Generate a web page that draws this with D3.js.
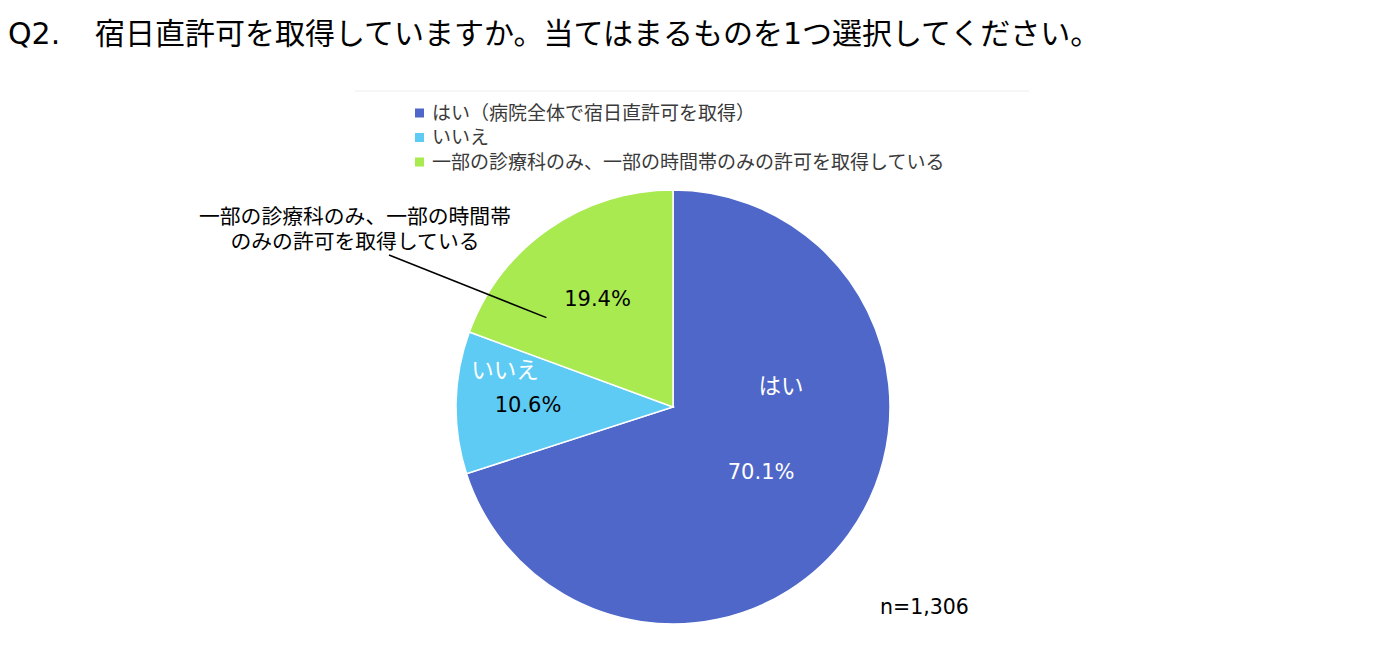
<!DOCTYPE html>
<html>
<head>
<meta charset="utf-8">
<script src="https://cdn.jsdelivr.net/npm/d3@7"></script>
<style>
  body { margin: 0; background: #fff; }
  svg text { font-family: "DejaVu Sans", "Noto Sans CJK JP", sans-serif; }
</style>
</head>
<body>
<svg id="chart" width="1390" height="666"></svg>
<script>
// data
var titleQ = "Q2.";
var titleText = "宿日直許可を取得していますか。当てはまるものを1つ選択してください。";
var categories = ["はい", "いいえ", "一部の診療科のみ、一部の時間帯のみの許可を取得している"];
var legendLabels = ["はい（病院全体で宿日直許可を取得）", "いいえ", "一部の診療科のみ、一部の時間帯のみの許可を取得している"];
var shortLabels = ["はい", "いいえ", ""];
var calloutLines = ["一部の診療科のみ、一部の時間帯", "のみの許可を取得している"];
var values = [70.1, 10.6, 19.4];
var colors = ["#4F67C8", "#5DCBF3", "#A8EA50"];
var nLabel = "n=1,306";

var svg = d3.select("#chart");

// title
var t = svg.append("text")
  .attr("x", 8).attr("y", 44)
  .attr("font-size", 30).attr("fill", "#000");
t.append("tspan").text(titleQ);
t.append("tspan").attr("x", 95).text(titleText);

// faint plot border line
svg.append("line")
  .attr("x1", 355).attr("x2", 1029).attr("y1", 91).attr("y2", 91)
  .attr("stroke", "#eeeeee").attr("stroke-width", 1);

// legend
var legend = svg.append("g").attr("transform", "translate(415,113)");
var li = legend.selectAll("g").data(legendLabels).enter().append("g")
  .attr("transform", function(d, i) { return "translate(0," + (i * 24.5) + ")"; });
li.append("rect")
  .attr("x", 0).attr("y", -4.5).attr("width", 9).attr("height", 9)
  .attr("fill", function(d, i) { return colors[i]; });
li.append("text")
  .attr("x", 17).attr("y", 0).attr("dy", "0.36em")
  .attr("font-size", 19).attr("fill", "#3a3a3a")
  .text(function(d) { return d; });

// pie
var cx = 673, cy = 407, radius = 217;
var g = svg.append("g").attr("transform", "translate(" + cx + "," + cy + ")");

var pie = d3.pie().sort(null).value(function(d) { return d; });
var arcs = pie(values);
var arc = d3.arc().innerRadius(0).outerRadius(radius);

g.selectAll("path").data(arcs).enter().append("path")
  .attr("d", arc)
  .attr("fill", function(d, i) { return colors[i]; })
  .attr("stroke", "#fff").attr("stroke-width", 1.5);

// percent labels
var pctRadius = [109, 145, 132];
var pctColor = ["#fff", "#000", "#000"];
arcs.forEach(function(a, i) {
  var c = d3.arc().innerRadius(pctRadius[i]).outerRadius(pctRadius[i]).centroid(a);
  g.append("text")
    .attr("x", c[0]).attr("y", c[1]).attr("dy", "0.36em")
    .attr("text-anchor", "middle")
    .attr("font-size", 21).attr("fill", pctColor[i])
    .text(d3.format(".1f")(values[i]) + "%");
});

// category labels inside slices
var catOffset = [[20, -85], [-23, -34], [0, 0]];
arcs.forEach(function(a, i) {
  if (!shortLabels[i]) return;
  var c = d3.arc().innerRadius(pctRadius[i]).outerRadius(pctRadius[i]).centroid(a);
  g.append("text")
    .attr("x", c[0] + catOffset[i][0]).attr("y", c[1] + catOffset[i][1]).attr("dy", "0.36em")
    .attr("text-anchor", "middle")
    .attr("font-size", 22.5).attr("fill", "#fff")
    .text(shortLabels[i]);
});

// callout for the third slice
var a3 = arcs[2];
var ang = a3.startAngle + 0.215 * (a3.endAngle - a3.startAngle);
var r3 = 155;
var endX = cx + r3 * Math.sin(ang), endY = cy - r3 * Math.cos(ang);
svg.append("line")
  .attr("x1", 389).attr("y1", 255).attr("x2", endX).attr("y2", endY)
  .attr("stroke", "#000").attr("stroke-width", 1.5);
var callout = svg.append("text")
  .attr("text-anchor", "middle").attr("font-size", 20.8).attr("fill", "#000");
calloutLines.forEach(function(s, i) {
  callout.append("tspan").attr("x", 355).attr("y", 224 + i * 25).text(s);
});

// n label
svg.append("text")
  .attr("x", 880).attr("y", 614)
  .attr("font-size", 20.5).attr("fill", "#000")
  .text(nLabel);
</script>
</body>
</html>
